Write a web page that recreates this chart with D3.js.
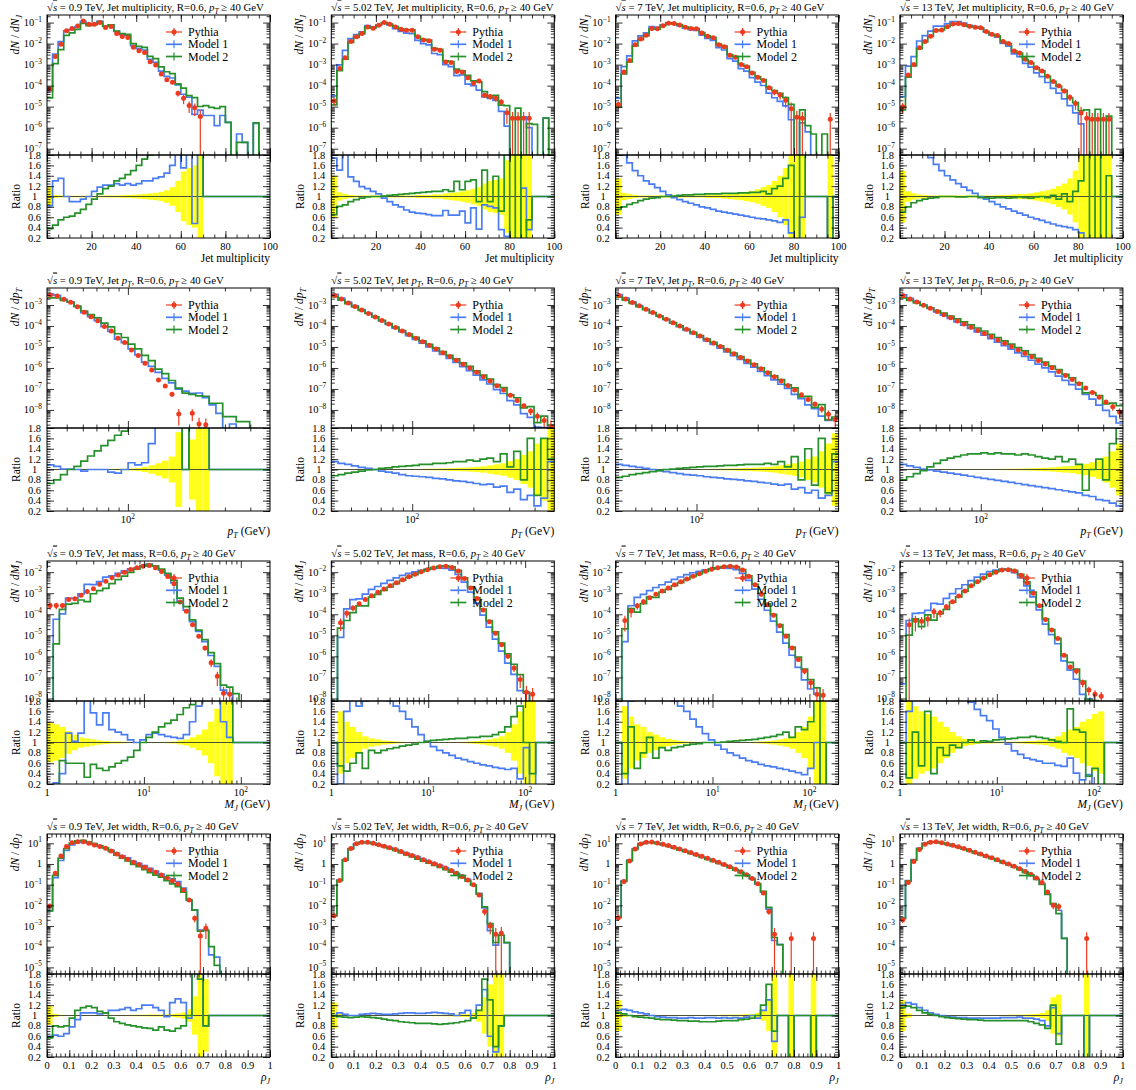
<!DOCTYPE html>
<html>
<head>
<meta charset="utf-8">
<script src="https://cdn.jsdelivr.net/npm/d3@7"></script>
<style>
  body { margin: 0; background: #fff; }
  svg text { font-family: "Liberation Serif", "DejaVu Serif", serif; fill: #000; }
</style>
</head>
<body>
<svg id="chart" width="1136" height="1090"></svg>
<script>
// centre-of-mass energies, one column each
const energies = ['0.9', '5.02', '7', '13'];

// bin edges of the four histograms
const multEdges = d3.range(41).map(i => 2.5 * i);
const ptEdges = d3.range(34).map(i => 40 * Math.pow(500 / 40, i / 33));
const massEdges = d3.range(37).map(i => Math.pow(200, i / 36));
const widthEdges = d3.range(41).map(i => 0.025 * i);

// ---- jet multiplicity: Pythia (log10), Pythia rel. error, model/Pythia ratios, model values past the Pythia data (log10)
const multPythia = [
  [-4.16,-2.61,-2.03,-1.39,-1.28,-1.16,-0.92,-1.08,-1.08,-1.0,-1.24,-1.19,-1.52,-1.66,-1.71,-2.18,-2.34,-2.42,-2.86,-3.02,-3.45,-3.72,-3.84,-4.36,-4.6,-4.95,-5.05,-5.47],
  [-4.73,-3.19,-2.67,-1.9,-1.68,-1.52,-1.21,-1.27,-1.13,-1.0,-1.08,-1.21,-1.32,-1.37,-1.37,-1.68,-1.83,-1.87,-2.27,-2.32,-2.87,-2.9,-3.33,-3.35,-3.62,-3.89,-3.78,-4.46,-4.52,-4.6,-4.78,-5.29,-5.55,-5.55,-5.55,-5.55],
  [-4.9,-3.35,-2.8,-2.05,-1.78,-1.6,-1.28,-1.3,-1.15,-1.03,-1.05,-1.12,-1.22,-1.28,-1.3,-1.5,-1.65,-1.72,-2.05,-2.15,-2.55,-2.65,-3.0,-3.1,-3.4,-3.6,-3.75,-4.1,-4.3,-4.45,-4.7,-5.1,-5.5,-5.55,null,null,null,null,-5.6],
  [-5.0,-3.5,-3.0,-2.2,-1.9,-1.65,-1.38,-1.35,-1.2,-1.07,-1.05,-1.1,-1.18,-1.22,-1.25,-1.42,-1.55,-1.62,-1.9,-2.0,-2.35,-2.45,-2.75,-2.9,-3.15,-3.3,-3.55,-3.8,-4.0,-4.25,-4.55,-4.85,-5.3,-5.55,-5.6,-5.6,-5.6,-5.6]
];
const multErr = [
  [0.18,0.03,0.02,0.015,0.015,0.015,0.015,0.015,0.015,0.015,0.02,0.02,0.02,0.025,0.03,0.035,0.04,0.05,0.06,0.07,0.09,0.12,0.18,0.3,0.48,0.55,0.6,1.0],
  [0.4,0.08,0.05,0.03,0.02,0.02,0.02,0.02,0.02,0.02,0.02,0.02,0.02,0.02,0.02,0.03,0.03,0.03,0.04,0.04,0.06,0.07,0.08,0.1,0.12,0.15,0.18,0.25,0.3,0.32,0.35,0.7,1,1,1,1],
  [0.35,0.07,0.05,0.03,0.02,0.02,0.02,0.02,0.02,0.02,0.02,0.02,0.02,0.02,0.02,0.02,0.03,0.03,0.03,0.04,0.05,0.06,0.07,0.09,0.11,0.14,0.18,0.22,0.3,0.4,0.55,1,1,1,null,null,null,null,1],
  [0.5,0.1,0.06,0.04,0.03,0.02,0.02,0.02,0.02,0.02,0.02,0.02,0.02,0.02,0.02,0.02,0.02,0.03,0.03,0.03,0.04,0.05,0.05,0.06,0.08,0.1,0.12,0.15,0.2,0.25,0.35,0.5,1,1,1,1,1,1]
];
const multRatio1 = [
  [0.82,1.3,1.35,1.0,0.9,0.9,0.95,1.0,1.1,1.18,1.22,1.22,1.25,1.22,1.25,1.22,1.25,1.3,1.3,1.35,1.38,1.45,1.6,2.5,1.55,2.5,0.48,2.0],
  [1.74,1.51,2.2,1.38,1.29,1.19,1.15,1.1,1.05,0.97,0.9,0.84,0.8,0.74,0.7,0.68,0.67,0.65,0.63,0.63,0.73,0.64,0.64,0.72,0.49,0.78,0.37,0.84,0.81,0.78,0.36,0.23,0,0,1.16,0.36],
  [2.0,1.8,1.65,1.5,1.4,1.3,1.24,1.17,1.1,1.03,0.98,0.94,0.9,0.87,0.84,0.8,0.78,0.75,0.72,0.7,0.68,0.66,0.64,0.62,0.6,0.58,0.57,0.55,0.53,0.5,0.55,0.3,0,0.6,null,null,null,null,0],
  [3.0,2.7,2.4,2.1,1.9,1.75,1.62,1.5,1.4,1.32,1.25,1.18,1.12,1.06,1.0,0.95,0.9,0.85,0.8,0.76,0.72,0.68,0.64,0.6,0.57,0.54,0.5,0.47,0.44,0.42,0.4,0.36,0.3,0,0,0,0,0]
];
const multRatio2 = [
  [0.38,0.45,0.55,0.6,0.62,0.68,0.75,0.85,0.95,1.05,1.15,1.2,1.3,1.35,1.42,1.5,1.6,1.72,1.8,2.0,2.2,2.4,2.6,2.8,3.0,3.0,3.0,3.0],
  [0.65,0.81,0.84,0.9,0.94,0.97,0.99,1.0,1.0,1.01,1.02,1.03,1.04,1.05,1.06,1.07,1.08,1.09,1.1,1.1,1.13,1.1,1.29,1.13,1.29,1.32,0.9,1.51,0.9,1.39,0.72,2.2,0,3.0,0,0.55],
  [0.75,0.8,0.85,0.88,0.92,0.95,0.97,0.98,1.0,1.0,1.01,1.02,1.03,1.03,1.04,1.04,1.05,1.05,1.05,1.06,1.06,1.06,1.07,1.07,1.08,1.08,1.1,1.05,1.15,1.2,1.35,1.6,0,2.5,null,null,null,null,0],
  [0.7,0.8,0.88,0.92,0.95,0.97,0.98,1.0,1.0,1.0,0.99,0.99,1.0,1.0,0.98,0.98,0.97,0.98,0.98,0.97,0.98,0.99,0.98,0.97,0.99,1.0,0.98,1.02,0.95,1.05,0.9,1.1,1.3,2.5,0,3.0,0,1.4]
];
const multTail1 = [
  [[28,-5.42],[29,-5.42],[30,-5.9],[31,-5.42],[32,-5.75],[34,-6.3],[35,-6.7],[37,-5.8]],
  [[38,-5.55]],
  [[34,-6.2]],
  []
];
const multTail2 = [
  [[28,-4.95],[29,-5.03],[30,-5.08],[31,-5.0],[32,-5.75],[34,-6.7],[35,-6.7],[37,-5.77]],
  [[36,-5.84],[38,-5.55]],
  [[34,-5.9],[35,-6.3],[37,-6.3]],
  []
];

// ---- jet pT
const ptPythia = [
  [-2.52,-2.57,-2.73,-2.87,-3.08,-3.35,-3.56,-3.75,-4.03,-4.24,-4.59,-4.79,-5.14,-5.41,-5.78,-6.1,-6.57,-6.86,-7.25,-8.19,null,-8.16,-8.67,-8.71],
  [-2.55,-2.72,-2.9,-3.07,-3.24,-3.4,-3.57,-3.74,-3.9,-4.07,-4.24,-4.41,-4.58,-4.75,-4.92,-5.1,-5.27,-5.45,-5.63,-5.82,-6.0,-6.2,-6.42,-6.62,-6.85,-7.05,-7.3,-7.55,-7.8,-8.05,-8.3,-8.5,-8.8],
  [-2.55,-2.71,-2.88,-3.04,-3.2,-3.36,-3.52,-3.68,-3.84,-4.0,-4.16,-4.32,-4.48,-4.65,-4.81,-4.98,-5.15,-5.32,-5.5,-5.67,-5.85,-6.04,-6.23,-6.42,-6.62,-6.83,-7.05,-7.28,-7.5,-7.72,-7.95,-8.2,-8.45],
  [-2.56,-2.71,-2.86,-3.01,-3.16,-3.31,-3.46,-3.61,-3.76,-3.91,-4.06,-4.21,-4.36,-4.51,-4.67,-4.82,-4.98,-5.14,-5.3,-5.47,-5.64,-5.81,-5.99,-6.17,-6.36,-6.55,-6.75,-6.96,-7.17,-7.39,-7.62,-7.85,-8.1]
];
const ptErr = [
  [0.01,0.01,0.01,0.01,0.01,0.01,0.01,0.01,0.01,0.01,0.015,0.015,0.02,0.03,0.05,0.08,0.12,0.17,0.25,0.72,null,0.58,1,1],
  [0.005,0.005,0.005,0.005,0.005,0.005,0.005,0.005,0.006,0.007,0.008,0.01,0.01,0.012,0.015,0.018,0.02,0.025,0.03,0.035,0.04,0.05,0.06,0.08,0.1,0.12,0.16,0.2,0.28,0.35,0.5,0.6,1.0],
  [0.005,0.005,0.005,0.005,0.005,0.005,0.005,0.005,0.006,0.007,0.008,0.009,0.01,0.011,0.013,0.015,0.018,0.02,0.025,0.03,0.035,0.04,0.05,0.06,0.08,0.1,0.12,0.15,0.2,0.25,0.35,0.5,0.7],
  [0.004,0.004,0.004,0.004,0.004,0.004,0.004,0.005,0.005,0.006,0.007,0.008,0.009,0.01,0.011,0.013,0.015,0.017,0.02,0.024,0.028,0.033,0.04,0.05,0.06,0.07,0.09,0.11,0.14,0.18,0.25,0.35,0.5]
];
const ptRatio1 = [
  [1.09,1.06,1.01,1.01,1.0,0.97,1.0,1.0,1.0,0.95,0.93,1.0,1.13,1.09,1.13,1.5,2.3,2.3,3.5,15,null,9,30,20],
  [1.15,1.12,1.1,1.07,1.04,1.02,1.0,0.97,0.95,0.93,0.9,0.88,0.87,0.86,0.85,0.83,0.82,0.8,0.78,0.77,0.75,0.73,0.71,0.72,0.66,0.68,0.56,0.62,0.42,0.5,0.3,0.45,1.15],
  [1.1,1.08,1.06,1.04,1.02,1.0,0.98,0.96,0.94,0.92,0.9,0.89,0.88,0.86,0.85,0.84,0.82,0.81,0.8,0.78,0.77,0.75,0.74,0.72,0.7,0.72,0.62,0.65,0.55,0.6,0.45,0.5,1.15],
  [1.1,1.07,1.04,1.01,0.99,0.97,0.95,0.93,0.91,0.89,0.87,0.85,0.83,0.81,0.79,0.77,0.75,0.73,0.71,0.69,0.67,0.65,0.63,0.61,0.59,0.57,0.55,0.5,0.48,0.42,0.4,0.35,0.3]
];
const ptRatio2 = [
  [0.73,0.8,0.9,1.0,1.06,1.16,1.26,1.36,1.46,1.56,1.66,1.74,1.9,2.1,2.4,2.8,3.3,3.9,4.5,17,null,8,22,23],
  [0.88,0.9,0.93,0.95,0.97,0.99,1.0,1.02,1.03,1.05,1.06,1.07,1.08,1.1,1.1,1.12,1.12,1.13,1.15,1.15,1.18,1.16,1.2,1.22,1.15,1.3,1.05,1.35,0.8,1.6,0.5,1.6,1.2],
  [0.85,0.87,0.9,0.92,0.94,0.96,0.98,1.0,1.01,1.02,1.03,1.04,1.05,1.06,1.06,1.07,1.08,1.08,1.09,1.1,1.1,1.1,1.12,1.1,1.15,1.05,1.25,0.8,1.4,0.7,1.6,0.55,1.3],
  [0.8,0.86,0.92,0.98,1.05,1.12,1.18,1.22,1.25,1.28,1.3,1.3,1.32,1.3,1.32,1.3,1.3,1.28,1.3,1.28,1.25,1.22,1.2,1.25,1.15,1.2,1.1,0.6,1.0,1.2,0.8,1.5,2.0]
];
const ptTail1 = [
  [[20,-7.1],[24,-7.76],[25,-8.16],[27,-8.67]],
  [], [], []
];
const ptTail2 = [
  [[20,-7.2],[24,-7.68],[25,-7.68],[26,-8.32],[27,-8.32],[28,-8.56],[29,-8.56]],
  [], [], []
];

// ---- jet mass
const massPythia = [
  [-3.58,-3.58,-3.58,-3.3,-3.26,-3.1,-2.92,-2.79,-2.58,-2.43,-2.27,-2.13,-2.0,-1.87,-1.79,-1.72,-1.68,-1.79,-1.97,-2.19,-2.55,-3.42,-3.86,-4.5,-5.05,-5.6,-6.3,-6.95,-7.75,-7.8],
  [null,-4.4,-3.95,-3.7,-3.5,-3.3,-3.12,-2.96,-2.8,-2.65,-2.5,-2.36,-2.22,-2.1,-1.98,-1.88,-1.8,-1.74,-1.72,-1.78,-1.95,-2.3,-2.75,-3.25,-3.8,-4.35,-4.9,-5.45,-6.0,-6.55,-7.1,-7.7,-7.8],
  [null,-4.3,-3.85,-3.6,-3.4,-3.22,-3.05,-2.9,-2.75,-2.6,-2.46,-2.32,-2.19,-2.07,-1.96,-1.86,-1.79,-1.74,-1.72,-1.76,-1.9,-2.2,-2.6,-3.05,-3.55,-4.05,-4.55,-5.05,-5.6,-6.15,-6.7,-7.25,-7.8,-7.85],
  [null,-4.5,-4.3,-4.33,-4.23,-3.88,-3.93,-3.64,-3.4,-3.13,-2.9,-2.65,-2.45,-2.28,-2.12,-2.0,-1.9,-1.88,-1.95,-2.15,-2.5,-3.0,-3.6,-4.25,-4.75,-5.15,-5.95,-6.5,-6.7,-7.25,-7.6,-7.8,-7.9]
];
const massErr = [
  [0.38,0.35,0.3,0.22,0.15,0.1,0.08,0.06,0.04,0.03,0.02,0.02,0.015,0.01,0.01,0.01,0.01,0.01,0.01,0.015,0.02,0.04,0.06,0.1,0.15,0.25,0.4,0.65,1.0,1.0],
  [null,0.6,0.4,0.3,0.2,0.12,0.08,0.06,0.04,0.03,0.02,0.015,0.01,0.01,0.01,0.01,0.01,0.01,0.01,0.01,0.01,0.015,0.02,0.03,0.04,0.06,0.08,0.12,0.2,0.35,0.6,1.0,1.0],
  [null,0.7,0.5,0.35,0.3,0.2,0.15,0.1,0.07,0.05,0.03,0.02,0.015,0.01,0.01,0.01,0.01,0.01,0.01,0.01,0.01,0.01,0.015,0.02,0.03,0.04,0.06,0.08,0.12,0.2,0.3,0.5,1,1],
  [null,1.0,0.7,0.6,0.55,0.5,0.4,0.3,0.2,0.12,0.07,0.05,0.03,0.02,0.02,0.015,0.015,0.015,0.015,0.02,0.025,0.03,0.04,0.05,0.08,0.12,0.2,0.25,0.3,0.4,0.45,0.55,0.6]
];
const massRatio1 = [
  [0,0.22,0.4,1.18,1.02,1.18,2.2,1.57,1.34,1.57,1.25,1.2,1.15,1.05,1.0,1.05,1.15,1.18,1.15,1.12,1.1,1.08,1.15,1.4,1.7,2.0,2.2,3.0,1.4,1.1],
  [null,0.2,1.6,2.5,1.7,1.8,2.0,1.9,1.85,1.8,1.7,1.6,1.45,1.3,1.15,1.02,0.92,0.85,0.8,0.75,0.7,0.67,0.63,0.6,0.57,0.55,0.52,0.5,0.48,0.5,0.3,0.9,0],
  [null,0.1,1.8,2.5,2.2,2.2,2.1,2.0,1.9,1.8,1.7,1.6,1.45,1.3,1.17,1.05,0.95,0.87,0.8,0.75,0.7,0.65,0.62,0.58,0.55,0.53,0.5,0.48,0.45,0.42,0.38,0.5,1.0,0],
  [null,1.6,2.2,2.5,2.6,2.5,2.6,2.5,2.4,2.2,2.0,1.78,1.64,1.52,1.42,1.26,1.1,0.97,0.84,0.77,0.7,0.67,0.64,0.6,0.6,0.56,0.54,0.7,0.41,0.28,0.38,0,0]
];
const massRatio2 = [
  [0,0.015,0.65,0.6,0.6,0.6,0.33,0.58,0.5,0.46,0.53,0.6,0.65,0.72,0.85,1.0,1.1,1.2,1.3,1.37,1.43,1.54,1.67,1.73,2.0,2.5,3.0,4.0,2.4,2.2],
  [null,0.55,0.45,0.6,0.8,0.5,0.85,0.8,0.85,0.88,0.9,0.93,0.95,0.97,1.0,1.02,1.04,1.05,1.06,1.07,1.08,1.08,1.1,1.1,1.12,1.12,1.15,1.2,1.3,1.5,1.7,1.0,0.4],
  [null,0.4,1.3,0.5,0.8,1.1,0.7,0.9,0.85,0.9,0.92,0.95,0.97,0.98,1.0,1.0,1.0,1.01,1.02,1.03,1.04,1.05,1.06,1.08,1.1,1.12,1.15,1.2,1.1,1.3,1.25,1.4,2.0,0],
  [null,0.32,1.2,0.55,1.6,0.4,0.9,0.75,0.95,0.9,1.0,1.05,1.0,1.03,1.02,1.05,1.06,1.07,1.08,1.1,1.1,1.12,1.1,1.08,1.05,1.02,1.0,1.65,1.25,1.2,0.35,0.5,0]
];
const massTail1 = [[], [], [], [[0,-7.3]]];
const massTail2 = [[[30,-7.77]], [], [], []];

// ---- jet width
const widthPythia = [
  [-2.03,-0.45,0.39,0.84,1.03,1.08,1.08,1.0,0.92,0.84,0.76,0.63,0.48,0.35,0.23,0.08,-0.02,-0.16,-0.29,-0.4,-0.53,-0.66,-0.81,-0.97,-1.26,-1.74,-2.63,-3.48,-3.11],
  [-2.5,-0.8,0.2,0.75,0.98,1.05,1.05,1.0,0.93,0.86,0.78,0.7,0.6,0.5,0.41,0.31,0.21,0.11,0.01,-0.09,-0.2,-0.32,-0.45,-0.6,-0.78,-1.0,-1.5,-2.3,-3.0,-3.4,-3.35],
  [-2.6,-0.85,0.15,0.72,0.97,1.05,1.06,1.02,0.96,0.89,0.81,0.73,0.64,0.55,0.46,0.37,0.28,0.18,0.08,-0.02,-0.13,-0.25,-0.38,-0.52,-0.7,-0.95,-1.4,-2.3,-3.4,null,null,-3.6,null,null,null,-3.6],
  [-2.7,-0.9,0.12,0.7,0.96,1.05,1.07,1.03,0.97,0.9,0.83,0.75,0.66,0.57,0.48,0.39,0.3,0.2,0.1,0.0,-0.11,-0.23,-0.36,-0.5,-0.68,-0.9,-1.35,-2.0,-2.05,null,null,null,null,-3.6]
];
const widthErr = [
  [0.18,0.03,0.015,0.01,0.01,0.01,0.01,0.01,0.01,0.01,0.01,0.01,0.01,0.01,0.01,0.015,0.015,0.015,0.02,0.02,0.02,0.025,0.03,0.04,0.06,0.12,0.37,1.0,0.7],
  [0.25,0.03,0.01,0.01,0.01,0.01,0.01,0.01,0.01,0.01,0.01,0.01,0.01,0.01,0.01,0.01,0.01,0.01,0.012,0.014,0.016,0.018,0.02,0.025,0.03,0.05,0.12,0.35,0.6,1.0,1.0],
  [0.3,0.03,0.01,0.01,0.01,0.01,0.01,0.01,0.01,0.01,0.01,0.01,0.01,0.01,0.01,0.01,0.01,0.01,0.012,0.014,0.016,0.018,0.02,0.025,0.03,0.05,0.1,0.3,1.0,null,null,1.0,null,null,null,1.0],
  [0.3,0.04,0.01,0.01,0.01,0.01,0.01,0.01,0.01,0.01,0.01,0.01,0.01,0.01,0.01,0.01,0.01,0.01,0.012,0.014,0.016,0.018,0.02,0.025,0.03,0.05,0.1,0.35,0.4,null,null,null,null,1.0]
];
const widthRatio1 = [
  [0.6,0.62,0.6,0.65,0.78,0.92,1.05,1.05,1.05,1.03,1.05,1.1,1.1,1.12,1.15,1.1,1.13,1.2,1.2,1.15,1.1,0.98,1.25,1.32,1.25,0.95,2.5,1.9,0.8],
  [1.0,1.05,1.02,1.0,1.0,1.02,1.03,1.04,1.03,1.02,1.02,1.03,1.04,1.05,1.05,1.04,1.04,1.05,1.06,1.05,1.04,1.03,1.0,1.05,1.1,0.95,1.2,1.5,0.6,0.3,0.8],
  [1.1,1.12,1.1,1.07,1.05,1.03,1.0,0.98,0.97,0.96,0.96,0.95,0.95,0.96,0.95,0.95,0.96,0.96,0.95,0.96,0.95,0.96,0.95,0.97,1.0,0.95,1.1,1.3,0.5,null,null,0,null,null,null,0],
  [1.2,1.25,1.22,1.15,1.1,1.05,1.02,1.0,0.98,0.97,0.96,0.96,0.95,0.95,0.95,0.95,0.95,0.95,0.96,0.96,0.96,0.97,0.95,0.95,0.93,0.9,0.8,1.15,0.65,null,null,null,null,0]
];
const widthRatio2 = [
  [0.57,0.8,0.78,0.8,0.95,1.1,1.15,1.18,1.15,1.08,1.05,0.95,0.88,0.85,0.82,0.8,0.78,0.76,0.75,0.72,0.78,0.72,0.7,0.75,0.8,1.0,2.5,1.7,0.8],
  [1.0,0.98,0.97,0.96,0.97,0.98,0.97,0.96,0.95,0.93,0.91,0.9,0.88,0.87,0.86,0.85,0.85,0.85,0.84,0.83,0.84,0.85,0.86,0.88,0.9,0.95,1.1,1.7,1.3,0.4,0.8],
  [1.05,1.03,1.0,0.98,0.97,0.96,0.95,0.93,0.92,0.92,0.91,0.9,0.9,0.89,0.89,0.88,0.88,0.88,0.89,0.9,0.9,0.9,0.92,0.93,0.95,1.0,1.2,1.6,0.7,null,null,0,null,null,null,0],
  [1.15,1.18,1.15,1.1,1.05,1.02,1.0,0.98,0.96,0.95,0.94,0.93,0.92,0.92,0.91,0.9,0.9,0.9,0.9,0.9,0.9,0.9,0.9,0.88,0.85,0.82,0.75,1.2,0.45,null,null,null,null,0]
];
const widthTail1 = [[[29,-4.4],[30,-4.5]], [[31,-3.8]], [[29,-3.9]], [[29,-3.6]]];
const widthTail2 = [[[29,-4.0],[30,-4.9]], [[31,-3.8]], [[29,-3.9]], [[29,-3.6]]];

// ---- layout
const colX = [47, 331.3, 615.6, 899.9];
const rowY = [15, 288, 561, 834];
const FW = 223, MH = 140, RH = 83;
const BLUE = '#4a7cf2', GREEN = '#26912a', RED = '#ee3a1e', BAND = '#ffff1a';
const FS = { title: 10.8, tick: 10.5, label: 11.5, legend: 12 };

const lin = (a, b, s) => d3.range(Math.round((b - a) / s) + 1).map(i => +(a + i * s).toFixed(4));
function logTicks(lo, hi) {
  const major = [], minor = [];
  for (let k = Math.floor(Math.log10(lo)); k <= Math.ceil(Math.log10(hi)); k++) {
    const v = Math.pow(10, k);
    if (v >= lo * 0.999 && v <= hi * 1.001) major.push(v);
    for (let m = 2; m <= 9; m++) { const w = m * v; if (w > lo && w < hi) minor.push(w); }
  }
  return { major, minor };
}

const observables = [
  { name: [{ t: 'Jet multiplicity' }], xlab: [{ t: 'Jet multiplicity' }], dsym: [{ t: 'N', i: true }, { t: 'J', i: true, sub: true }],
    edges: multEdges, log: false, xDomain: [0, 100], yDomain: [-7.3, -0.64],
    xMajor: lin(0, 100, 20), xMinor: lin(0, 100, 5), xLabels: [20, 40, 60, 80, 100].map(v => [v, [{ t: String(v) }]]),
    py: multPythia, err: multErr, r1: multRatio1, r2: multRatio2, t1: multTail1, t2: multTail2 },
  { name: [{ t: 'Jet ' }, { t: 'p', i: true }, { t: 'T', i: true, sub: true }], xlab: [{ t: 'p', i: true }, { t: 'T', i: true, sub: true }, { t: ' (GeV)' }],
    dsym: [{ t: 'p', i: true }, { t: 'T', i: true, sub: true }],
    edges: ptEdges, log: true, xDomain: [40, 500], yDomain: [-8.86, -2.19],
    xLabels: [[100, [{ t: '10' }, { t: '2', sup: true }]]],
    py: ptPythia, err: ptErr, r1: ptRatio1, r2: ptRatio2, t1: ptTail1, t2: ptTail2 },
  { name: [{ t: 'Jet mass' }], xlab: [{ t: 'M', i: true }, { t: 'J', i: true, sub: true }, { t: ' (GeV)' }],
    dsym: [{ t: 'M', i: true }, { t: 'J', i: true, sub: true }],
    edges: massEdges, log: true, xDomain: [1, 200], yDomain: [-8.12, -1.47],
    xLabels: [[1, [{ t: '1' }]], [10, [{ t: '10' }, { t: '1', sup: true }]], [100, [{ t: '10' }, { t: '2', sup: true }]]],
    py: massPythia, err: massErr, r1: massRatio1, r2: massRatio2, t1: massTail1, t2: massTail2 },
  { name: [{ t: 'Jet width' }], xlab: [{ t: 'ρ', i: true }, { t: 'J', i: true, sub: true }],
    dsym: [{ t: 'ρ', i: true }, { t: 'J', i: true, sub: true }],
    edges: widthEdges, log: false, xDomain: [0, 1], yDomain: [-5.32, 1.45],
    xMajor: lin(0, 1, 0.1), xMinor: lin(0, 1, 0.02), xLabels: lin(0, 1, 0.1).map(v => [v, [{ t: String(v) }]]),
    py: widthPythia, err: widthErr, r1: widthRatio1, r2: widthRatio2, t1: widthTail1, t2: widthTail2 }
];

const svg = d3.select('#chart');
const defs = svg.append('defs');

// text with italic / sub / superscript pieces
function rich(sel, parts) {
  let shift = 0;
  parts.forEach(p => {
    const ts = sel.append('tspan').text(p.t);
    const target = p.sub ? 3 : p.sup ? -4.5 : 0;
    if (target !== shift) { ts.attr('dy', target - shift); shift = target; }
    if (p.sub || p.sup) ts.attr('font-size', '0.7em');
    if (p.i) ts.attr('font-style', 'italic');
    if (p.o) ts.attr('text-decoration', 'overline');
  });
  return sel;
}

function tickSet(g, gen, tr, values, size) {
  g.append('g').attr('transform', tr)
    .call(gen.tickValues(values).tickSize(size).tickFormat(''))
    .call(s => s.select('.domain').remove())
    .call(s => s.selectAll('line').attr('stroke', '#000').attr('stroke-width', 0.8));
}

function stepPath(edges, vals, xs, ys, floorY) {
  let d = '';
  vals.forEach((v, i) => {
    const yy = (v == null) ? floorY : ys(v);
    d += (i === 0 ? `M${xs(edges[i])},${yy}` : `V${yy}`) + `H${xs(edges[i + 1])}`;
  });
  return d;
}

function drawPanel(obs, r, c) {
  const E = energies[c];
  const nb = obs.edges.length - 1;
  const py = d3.range(nb).map(i => obs.py[c][i] == null ? null : Math.pow(10, obs.py[c][i]));
  const err = d3.range(nb).map(i => obs.err[c][i]);
  const ratio = (rs) => d3.range(nb).map(i => (py[i] == null || rs[i] == null) ? 1 : rs[i]);
  const model = (rs, tails) => d3.range(nb).map(i => {
    if (py[i] != null) return (rs[i] == null ? py[i] : (rs[i] > 0 ? py[i] * rs[i] : null));
    const t = tails.find(d => d[0] === i);
    return t ? Math.pow(10, t[1]) : null;
  });
  const m1 = model(obs.r1[c], obs.t1[c]), m2 = model(obs.r2[c], obs.t2[c]);
  const q1 = ratio(obs.r1[c]), q2 = ratio(obs.r2[c]);

  const g = svg.append('g').attr('transform', `translate(${colX[c]},${rowY[r]})`);
  const x = (obs.log ? d3.scaleLog() : d3.scaleLinear()).domain(obs.xDomain).range([0, FW]);
  const yDom = obs.yDomain.map(v => Math.pow(10, v));
  const y = d3.scaleLog().domain(yDom).range([MH, 0]);
  const yr = d3.scaleLinear().domain([0.2, 1.8]).range([MH + RH, MH]);
  const center = i => obs.log ? Math.sqrt(obs.edges[i] * obs.edges[i + 1]) : (obs.edges[i] + obs.edges[i + 1]) / 2;

  const cm = `cm${r}${c}`, cr = `cr${r}${c}`;
  defs.append('clipPath').attr('id', cm).append('rect').attr('width', FW).attr('height', MH);
  defs.append('clipPath').attr('id', cr).append('rect').attr('y', MH).attr('width', FW).attr('height', RH);

  // ratio panel
  const rg = g.append('g').attr('clip-path', `url(#${cr})`);
  rg.selectAll('rect.band').data(d3.range(nb).filter(i => py[i] != null && err[i] != null)).join('rect')
    .attr('x', i => x(obs.edges[i])).attr('width', i => x(obs.edges[i + 1]) - x(obs.edges[i]))
    .attr('y', i => yr(1 + err[i])).attr('height', i => yr(Math.max(1 - err[i], 0)) - yr(1 + err[i]))
    .attr('fill', BAND);
  rg.append('line').attr('x1', 0).attr('x2', FW).attr('y1', yr(1)).attr('y2', yr(1)).attr('stroke', '#4f4f3a').attr('stroke-width', 1.2);
  [[q1, BLUE], [q2, GREEN]].forEach(([q, col]) => {
    rg.append('path').attr('d', stepPath(obs.edges, q, x, v => yr(Math.max(v, 0.05)), MH + RH + 10))
      .attr('fill', 'none').attr('stroke', col).attr('stroke-width', 1.7);
  });

  // main panel
  const mg = g.append('g').attr('clip-path', `url(#${cm})`);
  [[m1, BLUE], [m2, GREEN]].forEach(([m, col]) => {
    mg.append('path').attr('d', stepPath(obs.edges, m, x, y, MH + 10))
      .attr('fill', 'none').attr('stroke', col).attr('stroke-width', 1.7);
  });
  const pts = d3.range(nb).filter(i => py[i] != null);
  mg.selectAll('line.err').data(pts).join('line')
    .attr('x1', i => x(center(i))).attr('x2', i => x(center(i)))
    .attr('y1', i => y(py[i] * (1 + err[i])))
    .attr('y2', i => err[i] >= 1 ? MH + 5 : y(py[i] * (1 - err[i])))
    .attr('stroke', RED).attr('stroke-width', 1.2);
  mg.selectAll('circle.pt').data(pts).join('circle')
    .attr('cx', i => x(center(i))).attr('cy', i => y(py[i])).attr('r', 2.5).attr('fill', RED);

  // frames
  g.append('rect').attr('width', FW).attr('height', MH).attr('fill', 'none').attr('stroke', '#000');
  g.append('rect').attr('y', MH).attr('width', FW).attr('height', RH).attr('fill', 'none').attr('stroke', '#000');

  // ticks, all inside
  const lt = logTicks(yDom[0], yDom[1]);
  tickSet(g, d3.axisLeft(y), 'translate(0,0)', lt.major, -7);
  tickSet(g, d3.axisLeft(y), 'translate(0,0)', lt.minor, -3.5);
  tickSet(g, d3.axisRight(y), `translate(${FW},0)`, lt.major, -7);
  tickSet(g, d3.axisRight(y), `translate(${FW},0)`, lt.minor, -3.5);
  const rMaj = lin(0.2, 1.8, 0.2), rMin = lin(0.2, 1.8, 0.05);
  tickSet(g, d3.axisLeft(yr), 'translate(0,0)', rMaj, -7);
  tickSet(g, d3.axisLeft(yr), 'translate(0,0)', rMin, -3.5);
  tickSet(g, d3.axisRight(yr), `translate(${FW},0)`, rMaj, -7);
  tickSet(g, d3.axisRight(yr), `translate(${FW},0)`, rMin, -3.5);
  let xMaj = obs.xMajor, xMin = obs.xMinor;
  if (obs.log) { const xt = logTicks(obs.xDomain[0], obs.xDomain[1]); xMaj = xt.major; xMin = xt.minor; }
  [0, MH, MH + RH].forEach(yy => {
    if (yy < MH + RH) { tickSet(g, d3.axisTop(x), `translate(0,${yy})`, xMaj, -7); tickSet(g, d3.axisTop(x), `translate(0,${yy})`, xMin, -3.5); }
    if (yy > 0) { tickSet(g, d3.axisBottom(x), `translate(0,${yy})`, xMaj, -7); tickSet(g, d3.axisBottom(x), `translate(0,${yy})`, xMin, -3.5); }
  });

  // tick labels
  lt.major.forEach(v => {
    const k = Math.round(Math.log10(v));
    const t = g.append('text').attr('x', -5).attr('y', y(v) + 3.5).attr('text-anchor', 'end').attr('font-size', FS.tick);
    rich(t, k === 0 ? [{ t: '1' }] : [{ t: '10' }, { t: (k < 0 ? '\u2212' : '') + Math.abs(k), sup: true }]);
  });
  rMaj.forEach(v => {
    g.append('text').attr('x', -12.5).attr('y', yr(v) + 3.6).attr('text-anchor', 'middle').attr('font-size', FS.tick)
      .text(String(+v.toFixed(1)));
  });
  obs.xLabels.forEach(([v, parts]) => {
    const t = g.append('text').attr('x', x(v)).attr('y', MH + RH + 12).attr('text-anchor', 'middle').attr('font-size', FS.tick);
    rich(t, parts);
  });

  // axis titles
  rich(g.append('text').attr('x', FW).attr('y', MH + RH + 24).attr('text-anchor', 'end').attr('font-size', FS.label), obs.xlab);
  rich(g.append('text').attr('transform', 'translate(-28,0) rotate(-90)').attr('text-anchor', 'end').attr('font-size', FS.label),
    [{ t: 'dN', i: true }, { t: ' / ' }, { t: 'd', i: true }].concat(obs.dsym));
  g.append('text').attr('transform', `translate(-27,${MH + RH / 2}) rotate(-90)`).attr('text-anchor', 'middle').attr('font-size', FS.label).text('Ratio');

  // title
  rich(g.append('text').attr('x', 0).attr('y', -4.5).attr('font-size', FS.title),
    [{ t: '\u221A' }, { t: 's', i: true, o: true }, { t: ` = ${E} TeV, ` }].concat(obs.name,
      [{ t: ', R=0.6, ' }, { t: 'p', i: true }, { t: 'T', i: true, sub: true }, { t: ' \u2265 40 GeV' }]));

  // legend
  const lx = 119, lw = 16;
  [['Pythia', RED, 17], ['Model 1', BLUE, 29.3], ['Model 2', GREEN, 41.5]].forEach(([lab, col, ly], k) => {
    g.append('line').attr('x1', lx).attr('x2', lx + lw).attr('y1', ly).attr('y2', ly).attr('stroke', col).attr('stroke-width', k ? 1.7 : 1.2);
    g.append('line').attr('x1', lx + lw / 2).attr('x2', lx + lw / 2).attr('y1', ly - 4).attr('y2', ly + 4).attr('stroke', col).attr('stroke-width', 1.2);
    if (k === 0) g.append('circle').attr('cx', lx + lw / 2).attr('cy', ly).attr('r', 2.5).attr('fill', col);
    g.append('text').attr('x', lx + 22).attr('y', ly + 4).attr('font-size', FS.legend).text(lab);
  });
}

observables.forEach((obs, r) => energies.forEach((E, c) => drawPanel(obs, r, c)));
</script>
</body>
</html>
